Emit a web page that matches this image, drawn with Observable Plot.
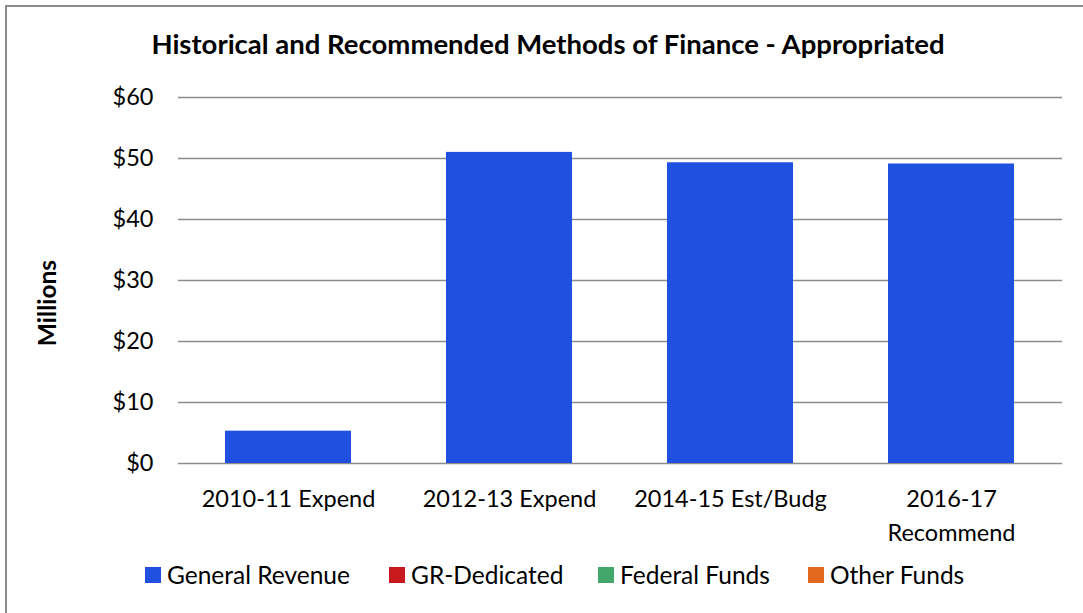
<!DOCTYPE html>
<html>
<head>
<meta charset="utf-8">
<script src="https://cdn.jsdelivr.net/npm/d3@7"></script>
<script src="https://cdn.jsdelivr.net/npm/@observablehq/plot@0.6"></script>
<style>
  html, body { margin: 0; padding: 0; background: #fff; }
  #wrap { position: relative; width: 1083px; height: 613px; overflow: hidden; font-family: Lato, "Open Sans", sans-serif; color: #000; }
  #frame { position: absolute; left: 5px; top: 5px; width: 1200px; height: 800px; border: 2px solid #8c8c8c; box-sizing: border-box; }
  #title { position: absolute; left: 0; width: 1096px; top: 27px; text-align: center; font-weight: bold; font-size: 27.5px; }
  #ylabel { position: absolute; left: 46px; top: 303px; transform: translate(-50%, -50%) rotate(-90deg); font-weight: bold; font-size: 24.5px; white-space: nowrap; }
  #chart { position: absolute; left: 0; top: 0; }
  #legend { position: absolute; top: 560px; left: 0; width: 1083px; height: 30px; }
  .item { position: absolute; top: 0; display: flex; align-items: center; font-size: 24.5px; white-space: nowrap; }
  .sw { width: 16px; height: 16px; margin-right: 6px; }
</style>
</head>
<body>
<div id="wrap">
  <div id="frame"></div>
  <div id="chart"></div>
  <div id="title">Historical and Recommended Methods of Finance - Appropriated</div>
  <div id="ylabel">Millions</div>
  <div id="legend"></div>
</div>
<script>
const categories = ["2010-11 Expend", "2012-13 Expend", "2014-15 Est/Budg", "2016-17\nRecommend"];
const seriesNames = ["General Revenue", "GR-Dedicated", "Federal Funds", "Other Funds"];
const seriesColors = ["#1f50e0", "#c8191e", "#42a66a", "#e2681e"];
const generalRevenue = [5.3, 51.0, 49.3, 49.1];
const grDedicated = [0, 0, 0, 0];
const federalFunds = [0, 0, 0, 0];
const otherFunds = [0, 0, 0, 0];
const yTicks = [0, 10, 20, 30, 40, 50, 60];
const legendX = [145, 389, 598, 808];

const seriesValues = [generalRevenue, grDedicated, federalFunds, otherFunds];
const rows = [];
seriesNames.forEach((s, i) => categories.forEach((c, j) => rows.push({category: c, series: s, value: seriesValues[i][j]})));

const chart = Plot.plot({
  width: 1083,
  height: 613,
  marginLeft: 178,
  marginRight: 21,
  marginTop: 97,
  marginBottom: 150,
  style: {fontFamily: "Lato, 'Open Sans', sans-serif", fontSize: "23.5px", color: "#000", background: "transparent"},
  x: {domain: categories, paddingInner: 0.428, paddingOuter: 0.214, label: null},
  y: {domain: [0, 60], label: null},
  color: {domain: seriesNames, range: seriesColors},
  marks: [
    Plot.ruleY(yTicks, {stroke: "#8c8c8c", strokeWidth: 1.6}),
    Plot.barY(rows, Plot.stackY({x: "category", y: "value", fill: "series", order: seriesNames})),
    Plot.axisY({ticks: yTicks, tickFormat: d => "$" + d, tickSize: 0, tickPadding: 25, fontSize: 23.5, label: null}),
    Plot.axisX({tickSize: 0, tickPadding: 19, fontSize: 23.5, lineHeight: 1.45, label: null})
  ]
});
document.getElementById("chart").appendChild(chart);

const legend = document.getElementById("legend");
seriesNames.forEach((s, i) => {
  const it = document.createElement("div");
  it.className = "item";
  it.style.left = legendX[i] + "px";
  const sw = document.createElement("div");
  sw.className = "sw";
  sw.style.background = seriesColors[i];
  const tx = document.createElement("span");
  tx.textContent = s;
  it.appendChild(sw);
  it.appendChild(tx);
  legend.appendChild(it);
});
</script>
</body>
</html>
